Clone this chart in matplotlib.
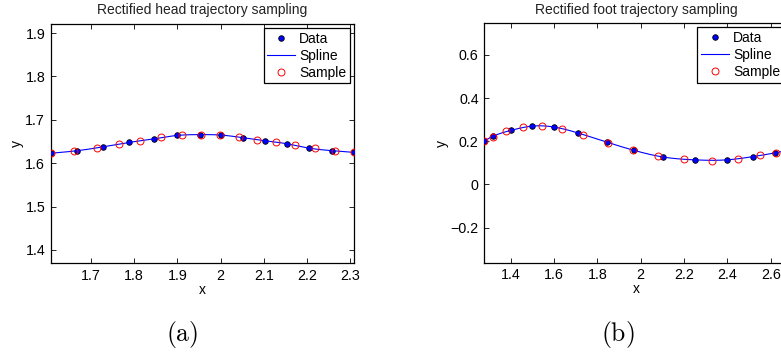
import numpy as np
import matplotlib
matplotlib.use("Agg")
import matplotlib.pyplot as plt

# Head trajectory: recorded points and resampled points
head_x = [1.607, 1.669, 1.729, 1.788, 1.845, 1.899, 1.952, 2.000, 2.051,
          2.102, 2.153, 2.204, 2.258, 2.309]
head_y = [1.623, 1.629, 1.638, 1.648, 1.656, 1.664, 1.666, 1.665, 1.659,
          1.652, 1.645, 1.635, 1.629, 1.625]
head_sx = [1.607, 1.661, 1.714, 1.765, 1.814, 1.862, 1.910, 1.954, 1.998,
           2.042, 2.085, 2.129, 2.173, 2.219, 2.265, 2.309]
head_sy = [1.623, 1.629, 1.636, 1.644, 1.652, 1.660, 1.665, 1.666, 1.664,
           1.661, 1.654, 1.648, 1.642, 1.635, 1.628, 1.625]

# Foot trajectory: recorded points and resampled points
foot_x = [1.276, 1.318, 1.403, 1.497, 1.599, 1.712, 1.846, 1.969, 2.104,
          2.249, 2.397, 2.518, 2.618, 2.678]
foot_y = [0.201, 0.223, 0.251, 0.270, 0.266, 0.238, 0.195, 0.158, 0.127,
          0.114, 0.114, 0.129, 0.146, 0.158]
foot_sx = [1.276, 1.318, 1.378, 1.455, 1.543, 1.635, 1.734, 1.849, 1.965,
           2.078, 2.200, 2.328, 2.448, 2.550, 2.623]
foot_sy = [0.201, 0.220, 0.246, 0.264, 0.270, 0.258, 0.231, 0.191, 0.158,
           0.131, 0.117, 0.111, 0.117, 0.135, 0.146]

head_ticks_x = [1.7, 1.8, 1.9, 2.0, 2.1, 2.2, 2.3]
head_ticklabels_x = ["1.7", "1.8", "1.9", "2", "2.1", "2.2", "2.3"]
head_ticks_y = [1.4, 1.5, 1.6, 1.7, 1.8, 1.9]
foot_ticks_x = [1.4, 1.6, 1.8, 2.0, 2.2, 2.4, 2.6]
foot_ticklabels_x = ["1.4", "1.6", "1.8", "2", "2.2", "2.4", "2.6"]
foot_ticks_y = [-0.2, 0.0, 0.2, 0.4, 0.6]
foot_ticklabels_y = ["\u22120.2", "0", "0.2", "0.4", "0.6"]


def natural_spline(x, y, n=400):
    """Natural cubic spline through (x, y), evaluated on a dense grid."""
    x = np.asarray(x, float)
    y = np.asarray(y, float)
    k = len(x)
    h = np.diff(x)
    A = np.zeros((k, k))
    b = np.zeros(k)
    A[0, 0] = A[-1, -1] = 1.0
    for i in range(1, k - 1):
        A[i, i - 1] = h[i - 1]
        A[i, i] = 2 * (h[i - 1] + h[i])
        A[i, i + 1] = h[i]
        b[i] = 3 * ((y[i + 1] - y[i]) / h[i] - (y[i] - y[i - 1]) / h[i - 1])
    c = np.linalg.solve(A, b)
    bb = (y[1:] - y[:-1]) / h - h * (2 * c[:-1] + c[1:]) / 3
    d = (c[1:] - c[:-1]) / (3 * h)
    xs = np.linspace(x[0], x[-1], n)
    idx = np.clip(np.searchsorted(x, xs) - 1, 0, k - 2)
    t = xs - x[idx]
    ys = y[idx] + bb[idx] * t + c[idx] * t ** 2 + d[idx] * t ** 3
    return xs, ys


plt.rcParams["font.family"] = ["Liberation Sans", "DejaVu Sans"]
plt.rcParams["font.size"] = 10
plt.rcParams["mathtext.fontset"] = "cm"

fig = plt.figure(figsize=(7.81, 3.56), dpi=100)
ax1 = fig.add_axes([0.0649, 0.2612, 0.3884, 0.6714])
ax2 = fig.add_axes([0.6201, 0.2621, 0.3884, 0.6724])


def draw(ax, dx, dy, sx, sy, title):
    ax.plot(dx, dy, linestyle="none", marker="o", markersize=4.0,
            markerfacecolor="#0000ff", markeredgecolor="black",
            markeredgewidth=0.6, label="Data", zorder=3)
    xs, ys = natural_spline(dx, dy)
    ax.plot(xs, ys, color="#0000ff", linewidth=0.8, label="Spline", zorder=4)
    ax.plot(sx, sy, linestyle="none", marker="o", markersize=5.0,
            markerfacecolor="none", markeredgecolor="#ff0000",
            markeredgewidth=0.7, label="Sample", zorder=5)
    ax.set_title(title, fontsize=10, pad=7, color="#222222")
    ax.set_xlabel("x", labelpad=0)
    ax.set_ylabel("y", labelpad=1)
    ax.tick_params(direction="in", length=3.5, width=0.6, top=True,
                   right=True, pad=4, labelsize=10.3)
    for s in ax.spines.values():
        s.set_linewidth(0.9)
    leg = ax.legend(loc="upper right", fancybox=False, framealpha=1,
                    edgecolor="black", fontsize=10, borderaxespad=0.3,
                    handlelength=2.0, handletextpad=0.3, borderpad=0.25,
                    labelspacing=0.22, numpoints=1)
    leg.get_frame().set_linewidth(0.9)


draw(ax1, head_x, head_y, head_sx, head_sy, "Rectified head trajectory sampling")
ax1.set_xlim(1.607, 2.309)
ax1.set_ylim(1.370, 1.921)
ax1.set_xticks(head_ticks_x)
ax1.set_xticklabels(head_ticklabels_x)
ax1.set_yticks(head_ticks_y)

draw(ax2, foot_x, foot_y, foot_sx, foot_sy, "Rectified foot trajectory sampling")
ax2.set_xlim(1.278, 2.678)
ax2.set_ylim(-0.362, 0.746)
ax2.set_xticks(foot_ticks_x)
ax2.set_xticklabels(foot_ticklabels_x)
ax2.set_yticks(foot_ticks_y)
ax2.set_yticklabels(foot_ticklabels_y)

fig.text(181.7 / 781, 1 - 335 / 356, r"$\mathrm{(a)}$", ha="center",
         va="center", fontsize=18.5)
fig.text(618 / 781, 1 - 335 / 356, r"$\mathrm{(b)}$", ha="center",
         va="center", fontsize=18.5)

fig.savefig("out.png", dpi=100)
